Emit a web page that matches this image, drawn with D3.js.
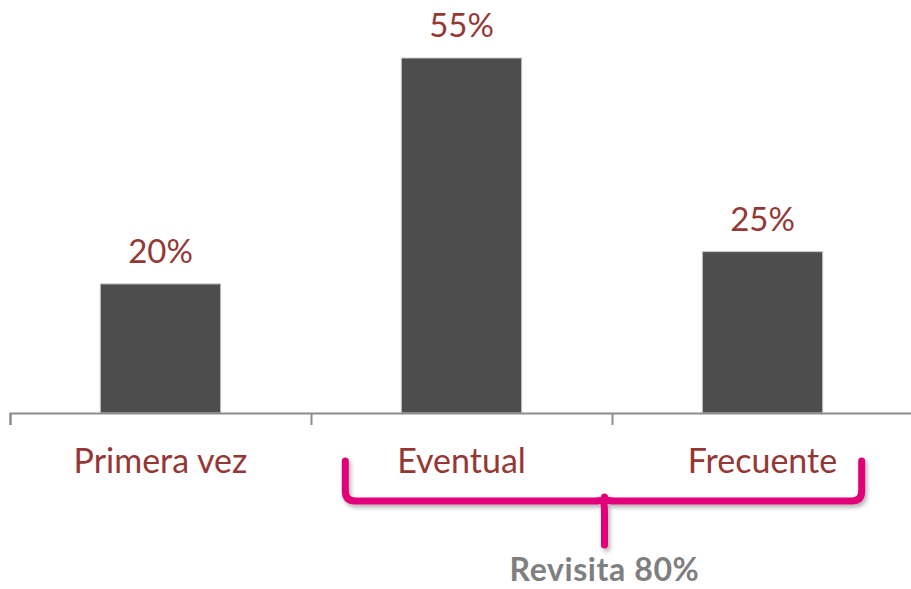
<!DOCTYPE html>
<html>
<head>
<meta charset="utf-8">
<script src="https://cdn.jsdelivr.net/npm/d3@7"></script>
<style>
  html, body { margin: 0; padding: 0; background: #fff; }
  svg { display: block; font-family: Lato, "Open Sans", sans-serif; }
</style>
</head>
<body>
<div id="chart"></div>
<script>
// data
const categories = ['Primera vez', 'Eventual', 'Frecuente'];
const values     = [20, 55, 25];
const valueLabels = ['20%', '55%', '25%'];
const braceLabel = 'Revisita 80%';

const width = 911, height = 589;
const baseY = 413;

const svg = d3.select('#chart').append('svg')
    .attr('width', width)
    .attr('height', height);

const x = d3.scaleBand()
  .domain(categories)
  .range([10, 913])
  .paddingInner(0.6)
  .paddingOuter(0.3);

const y = d3.scaleLinear()
  .domain([0, 55])
  .range([baseY, 58]);

// bars
svg.append('g')
  .selectAll('rect')
  .data(categories)
  .join('rect')
    .attr('x', d => x(d))
    .attr('y', (d, i) => y(values[i]))
    .attr('width', x.bandwidth())
    .attr('height', (d, i) => baseY - y(values[i]))
    .attr('fill', '#4d4d4d')
    .attr('stroke', '#c8c8c8')
    .attr('stroke-width', 1);

// value labels
svg.append('g')
  .selectAll('text')
  .data(categories)
  .join('text')
    .attr('x', d => x(d) + x.bandwidth() / 2)
    .attr('y', (d, i) => y(values[i]) - 21)
    .attr('text-anchor', 'middle')
    .attr('fill', '#953735')
    .style('font-size', '33px')
    .text((d, i) => valueLabels[i]);

// axis line + divider ticks
const xi = d3.scaleLinear().domain([0, categories.length]).range(x.range());
const axis = svg.append('g')
    .attr('transform', `translate(0,${baseY})`)
    .call(d3.axisBottom(xi).tickValues(d3.range(categories.length + 1)).tickSize(12).tickFormat(''));
axis.select('.domain').attr('stroke', '#8c8c8c').attr('stroke-width', 2);
axis.selectAll('.tick line').attr('stroke', '#8c8c8c').attr('stroke-width', 2);

// category labels
svg.append('g')
  .selectAll('text')
  .data(categories)
  .join('text')
    .attr('x', d => x(d) + x.bandwidth() / 2)
    .attr('y', 473)
    .attr('text-anchor', 'middle')
    .attr('fill', '#953735')
    .style('font-size', '34px')
    .text(d => d);

// brace over the revisit categories
const defs = svg.append('defs');
const f = defs.append('filter').attr('id', 'shadow')
  .attr('x', '-10%').attr('y', '-20%').attr('width', '120%').attr('height', '160%');
f.append('feDropShadow')
  .attr('dx', 2).attr('dy', 3).attr('stdDeviation', 2)
  .attr('flood-color', '#000').attr('flood-opacity', 0.3);

const bl = x('Eventual') - 56;
const br = x('Frecuente') + x.bandwidth() + 39;
const bm = (bl + br) / 2 + 1;
const bTop = 461, bMid = 501, bBot = 545, r = 10;

const p = d3.path();
p.moveTo(bl, bTop);
p.lineTo(bl, bMid - r);
p.quadraticCurveTo(bl, bMid, bl + r, bMid);
p.lineTo(bm - r, bMid);
p.quadraticCurveTo(bm, bMid, bm, bMid - 4);
p.quadraticCurveTo(bm, bMid, bm + r, bMid);
p.lineTo(br - r, bMid);
p.quadraticCurveTo(br, bMid, br, bMid - r);
p.lineTo(br, bTop);
p.moveTo(bm - 1, bMid);
p.quadraticCurveTo(bm, bMid + 4, bm, bMid + 14);
p.lineTo(bm, bBot);

svg.append('path')
  .attr('d', p.toString())
  .attr('fill', 'none')
  .attr('stroke', '#e2007a')
  .attr('stroke-width', 7)
  .attr('stroke-linecap', 'round')
  .attr('stroke-linejoin', 'round')
  .attr('filter', 'url(#shadow)');

svg.append('text')
  .attr('x', bm)
  .attr('y', 581)
  .attr('text-anchor', 'middle')
  .attr('fill', '#7f7f7f')
  .style('font-size', '32px')
  .style('font-weight', 'bold')
  .style('letter-spacing', '0.6px')
  .text(braceLabel);
</script>
</body>
</html>
